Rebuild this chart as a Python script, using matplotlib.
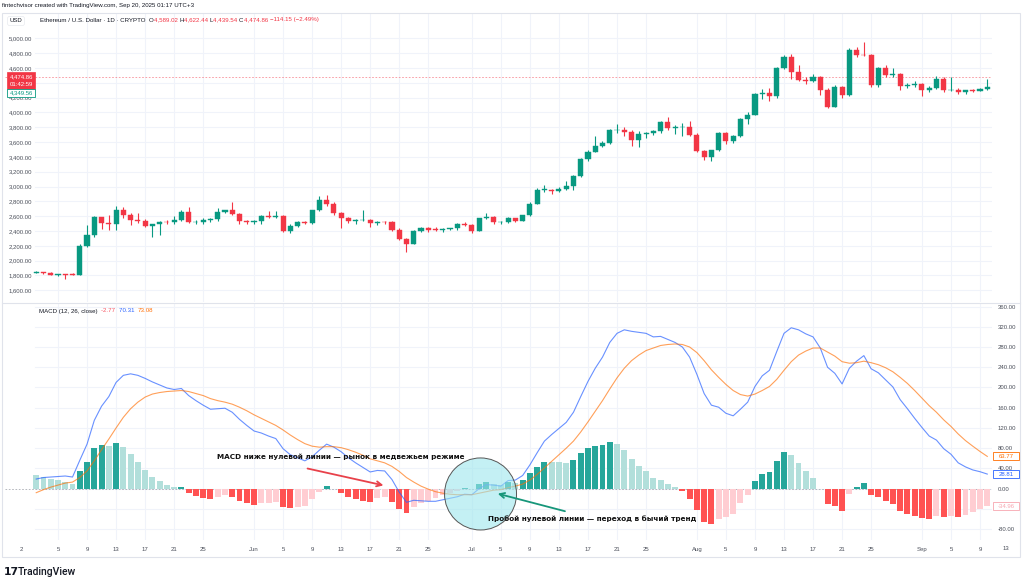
import numpy as np
import matplotlib
matplotlib.use('Agg')
import matplotlib.pyplot as plt
from matplotlib.patches import Rectangle, Ellipse
import pandas as pd

# ---------------- data ----------------
start_date = '2025-05-02'
opens = [1835, 1842, 1834, 1810, 1816, 1814, 1810, 2198, 2345, 2585,
         2510, 2495, 2680, 2610, 2545, 2535, 2465, 2490, 2520, 2515,
         2545, 2660, 2520, 2525, 2545, 2560, 2660, 2680, 2630, 2530,
         2525, 2535, 2600, 2590, 2600, 2405, 2470, 2520, 2505, 2680,
         2815, 2770, 2640, 2580, 2530, 2545, 2555, 2510, 2525, 2520,
         2410, 2295, 2230, 2405, 2445, 2420, 2415, 2425, 2435, 2500,
         2485, 2405, 2570, 2590, 2515, 2520, 2570, 2540, 2610, 2770,
         2955, 2960, 2940, 2970, 3010, 3140, 3370, 3470, 3550, 3590,
         3760, 3770, 3740, 3630, 3710, 3720, 3745, 3870, 3790, 3800,
         3810, 3700, 3480, 3395, 3490, 3720, 3610, 3680, 3910, 3970,
         4250, 4260, 4220, 4600, 4750, 4550, 4440, 4430, 4480, 4310,
         4080, 4340, 4230, 4840, 4780, 4770, 4370, 4600, 4510, 4515,
         4360, 4370, 4390, 4310, 4330, 4450, 4300, 4310, 4270, 4300,
         4295, 4312]
highs = [1865, 1850, 1845, 1825, 1822, 1830, 2220, 2480, 2600, 2595,
         2620, 2740, 2720, 2645, 2645, 2560, 2500, 2530, 2545, 2600,
         2690, 2730, 2550, 2570, 2580, 2710, 2690, 2790, 2640, 2545,
         2545, 2610, 2675, 2665, 2620, 2490, 2530, 2540, 2690, 2870,
         2880, 2785, 2650, 2590, 2560, 2680, 2560, 2540, 2540, 2540,
         2440, 2310, 2420, 2460, 2460, 2450, 2440, 2440, 2510, 2520,
         2500, 2580, 2640, 2600, 2535, 2590, 2580, 2620, 2790, 2980,
         3020, 2970, 2990, 3070, 3150, 3390, 3490, 3680, 3620, 3780,
         3850, 3810, 3760, 3750, 3740, 3770, 3890, 3940, 3830, 3860,
         3880, 3720, 3500, 3500, 3730, 3740, 3690, 3920, 4010, 4260,
         4320, 4330, 4620, 4780, 4790, 4640, 4480, 4520, 4490, 4330,
         4370, 4360, 4870, 4880, 4950, 4790, 4620, 4640, 4600, 4530,
         4400, 4420, 4400, 4360, 4490, 4480, 4480, 4330, 4310, 4320,
         4330, 4450]
lows = [1830, 1825, 1805, 1790, 1750, 1800, 1800, 2190, 2320, 2430,
        2410, 2415, 2570, 2480, 2510, 2450, 2325, 2350, 2490, 2500,
        2540, 2505, 2500, 2500, 2520, 2540, 2640, 2620, 2500, 2500,
        2490, 2500, 2580, 2575, 2390, 2380, 2460, 2490, 2500, 2670,
        2740, 2620, 2440, 2510, 2490, 2530, 2460, 2480, 2500, 2400,
        2280, 2120, 2220, 2390, 2390, 2400, 2390, 2410, 2420, 2470,
        2380, 2400, 2560, 2500, 2500, 2510, 2520, 2530, 2600, 2760,
        2930, 2900, 2920, 2950, 2960, 3130, 3350, 3460, 3530, 3580,
        3720, 3680, 3550, 3530, 3650, 3700, 3720, 3770, 3710, 3680,
        3680, 3470, 3360, 3350, 3480, 3580, 3590, 3670, 3850, 3960,
        4180, 4150, 4200, 4590, 4450, 4420, 4380, 4410, 4230, 4060,
        4070, 4200, 4220, 4750, 4760, 4350, 4340, 4480, 4480, 4300,
        4330, 4350, 4220, 4270, 4320, 4280, 4290, 4250, 4250, 4270,
        4290, 4300]
closes = [1842, 1834, 1810, 1816, 1812, 1810, 2200, 2345, 2585, 2510,
          2495, 2680, 2610, 2545, 2535, 2465, 2490, 2520, 2515, 2545,
          2660, 2520, 2525, 2545, 2560, 2660, 2680, 2630, 2530, 2525,
          2535, 2600, 2590, 2600, 2405, 2470, 2520, 2505, 2680, 2815,
          2770, 2640, 2580, 2530, 2545, 2555, 2510, 2525, 2520, 2410,
          2295, 2230, 2405, 2445, 2420, 2415, 2425, 2435, 2500, 2485,
          2405, 2570, 2590, 2515, 2520, 2570, 2540, 2610, 2770, 2955,
          2960, 2940, 2970, 3010, 3140, 3370, 3470, 3550, 3590, 3760,
          3770, 3740, 3630, 3710, 3720, 3745, 3870, 3790, 3800, 3810,
          3700, 3480, 3395, 3490, 3720, 3610, 3680, 3910, 3970, 4250,
          4260, 4220, 4600, 4750, 4550, 4440, 4430, 4480, 4310, 4080,
          4340, 4230, 4840, 4780, 4770, 4370, 4600, 4510, 4515, 4360,
          4370, 4390, 4310, 4330, 4450, 4300, 4310, 4270, 4300, 4295,
          4312, 4349.56]

hist = [27, 24, 20, 17, 14, 10, 34, 53, 80, 86,
        84, 90, 83, 69, 53, 37, 24, 15, 7, 3,
        4, -8, -14, -19, -21, -16, -12, -16, -24, -29,
        -32, -29, -28, -26, -37, -39, -36, -34, -21, -6,
        5, -1, -8, -16, -21, -24, -26, -19, -16, -26,
        -41, -49, -36, -29, -24, -19, -13, -8, -4, 1,
        0, 9, 14, 10, 7, 14, 12, 17, 30, 43,
        53, 53, 52, 51, 57, 70, 80, 85, 86, 92,
        88, 76, 58, 45, 34, 22, 18, 10, 3, -5,
        -20, -43, -65, -70, -59, -57, -50, -29, -12, 15,
        29, 32, 55, 73, 67, 50, 34, 22, 0, -30,
        -34, -44, -10, 3, 11, -12, -16, -24, -30, -44,
        -50, -55, -58, -60, -55, -57, -55, -57, -52, -47,
        -40, -34.96]
macd_line = [19, 22, 23, 24, 25, 23, 56, 88, 135, 163,
             182, 210, 224, 227, 224, 218, 211, 205, 199, 196,
             198, 184, 174, 165, 157, 158, 159, 151, 137, 125,
             114, 110, 104, 99, 79, 67, 61, 55, 63, 76,
             88, 82, 73, 61, 51, 42, 33, 36, 35, 18,
             -7, -27, -23, -24, -25, -25, -22, -19, -16, -11,
             -12, 0, 8, 7, 5, 16, 17, 26, 47, 71,
             94, 107, 119, 131, 151, 182, 212, 238, 260, 289,
             307, 314, 311, 309, 307, 300, 301, 295, 289, 280,
             260, 226, 188, 165, 161, 149, 144, 157, 171, 202,
             223, 234, 271, 307, 318, 314, 306, 300, 278, 240,
             228, 207, 238, 252, 263, 237, 229, 215, 201, 176,
             158, 139, 121, 104, 96, 79, 68, 51, 43, 37,
             33.5, 28.81]
signal_line = [-8, -2, 3, 7, 11, 13, 22, 35, 55, 77,
               98, 120, 141, 158, 171, 181, 187, 190, 192, 193,
               194, 192, 188, 184, 178, 174, 171, 167, 161, 154,
               146, 139, 132, 125, 116, 106, 97, 89, 84, 82,
               83, 83, 81, 77, 72, 66, 59, 55, 51, 44,
               34, 22, 13, 5, -1, -6, -9, -11, -12, -12,
               -12, -9, -6, -3, -2, 2, 5, 9, 17, 28,
               41, 54, 67, 80, 94, 112, 132, 153, 174, 197,
               219, 238, 253, 264, 273, 278, 283, 285, 286, 285,
               280, 269, 253, 235, 220, 206, 194, 186, 183, 187,
               194, 202, 216, 234, 251, 264, 272, 278, 278, 270,
               262, 251, 248, 249, 252, 249, 245, 239, 231, 220,
               208, 194, 179, 164, 151, 136, 123, 108, 95, 84,
               73.5, 63.77]

tick_dates = ['2025-04-30', '2025-05-05', '2025-05-09', '2025-05-13', '2025-05-17',
              '2025-05-21', '2025-05-25', '2025-06-01', '2025-06-05', '2025-06-09',
              '2025-06-13', '2025-06-17', '2025-06-21', '2025-06-25', '2025-07-01',
              '2025-07-05', '2025-07-09', '2025-07-13', '2025-07-17', '2025-07-21',
              '2025-07-25', '2025-08-01', '2025-08-05', '2025-08-09', '2025-08-13',
              '2025-08-17', '2025-08-21', '2025-08-25', '2025-09-01', '2025-09-05',
              '2025-09-09']
tick_labels = ['2', '5', '9', '13', '17', '21', '25', 'Jun', '5', '9', '13', '17',
               '21', '25', 'Jul', '5', '9', '13', '17', '21', '25', 'Aug', '5', '9',
               '13', '17', '21', '25', 'Sep', '5', '9']
price_ticks = [1600, 1800, 2000, 2200, 2400, 2600, 2800, 3000, 3200, 3400, 3600,
               3800, 4000, 4200, 4400, 4600, 4800, 5000]
macd_ticks = [-80, -40, 0, 40, 80, 120, 160, 200, 240, 280, 320, 360]

# ---------------- style ----------------
W, H = 1024, 585
UP, DN = '#089981', '#f23645'
H_UP_STRONG, H_UP_WEAK = '#26a69a', '#b2dfdb'
H_DN_WEAK, H_DN_STRONG = '#ffcdd2', '#ff5252'
GRID = '#f0f3fa'
TXT = '#131722'
LBL = '#4a4e59'
FONT = 'Liberation Sans'

def fx(x):
    return x / W

def fy(y):
    return 1 - y / H

def fmt(v):
    return f'{v:,.2f}'

fig = plt.figure(figsize=(W / 100, H / 100), dpi=100)
fig.patch.set_facecolor('white')

ax_l, ax_r = 5, 992
axp = fig.add_axes([fx(ax_l), fy(302), fx(ax_r - ax_l), (302 - 14) / H])
axm = fig.add_axes([fx(ax_l), fy(540), fx(ax_r - ax_l), (540 - 303) / H])

n = len(closes)
x = np.arange(n)
t0 = pd.Timestamp(start_date)
tick_pos = [(pd.Timestamp(d) - t0).days for d in tick_dates]

xlim = (-4.3, 131.65)
for ax in (axp, axm):
    ax.set_xlim(*xlim)
    for s in ax.spines.values():
        s.set_visible(False)
    ax.set_facecolor('none')
    for tp in tick_pos[1:]:
        ax.axvline(tp, color=GRID, lw=0.8, zorder=0)

# ---------------- price pane ----------------
axp.set_ylim(1442, 5329)
o = np.array(opens, float); c = np.array(closes, float)
hi = np.array(highs, float); lo = np.array(lows, float)
cols = np.where(c >= o, UP, DN)
axp.vlines(x, lo, hi, colors=cols, lw=0.8, zorder=3)
bottoms = np.minimum(o, c)
heights = np.maximum(np.abs(c - o), 8)
axp.bar(x, heights, bottom=bottoms, width=0.7, color=cols, edgecolor=cols, lw=0.3, zorder=4)

frac = (35 - ax_l) / (ax_r - ax_l)
for t in price_ticks:
    axp.axhline(t, xmin=frac, color=GRID, lw=0.8, zorder=0)
axp.set_yticks(price_ticks)
axp.set_yticklabels(['' if t == 4400 else fmt(t) for t in price_ticks])
axp.tick_params(axis='y', direction='in', length=0, pad=-19.6, labelsize=4.3,
                labelcolor=LBL)
for lab in axp.get_yticklabels():
    lab.set_fontfamily(FONT)
    lab.set_horizontalalignment('right')
axp.set_xticks([])

last_price = 4474.86
axp.axhline(last_price, color=DN, lw=0.6, ls=(0, (2, 2)), alpha=0.55, zorder=2)

# ---------------- MACD pane ----------------
axm.set_ylim(-101.5, 367)
hv = np.array(hist, float)
prev = np.r_[np.inf, hv[:-1]]
hcols = np.where(hv >= 0, np.where(hv > prev, H_UP_STRONG, H_UP_WEAK),
                 np.where(hv > prev, H_DN_WEAK, H_DN_STRONG))
axm.bar(x, hv, width=0.82, color=hcols, zorder=2)
axm.axhline(0, color='#9598a1', lw=0.6, ls=(0, (2, 2)), alpha=0.8, zorder=1)
axm.plot(x, macd_line, color='#2962ff', lw=0.8, alpha=0.7, zorder=5)
axm.plot(x, signal_line, color='#ff6d00', lw=0.8, alpha=0.65, zorder=5)
for t in macd_ticks:
    axm.axhline(t, xmin=frac, color=GRID, lw=0.8, zorder=0)
axm.yaxis.tick_right()
axm.set_yticks(macd_ticks)
axm.set_yticklabels(['' if t == -40 else fmt(t) for t in macd_ticks])
axm.tick_params(axis='y', length=0, pad=4.3, labelsize=4.3, labelcolor=LBL)
axm.set_xticks(tick_pos)
axm.set_xticklabels(tick_labels)
axm.tick_params(axis='x', length=0, pad=5, labelsize=4.3, labelcolor=LBL)
for lab in axm.get_yticklabels() + axm.get_xticklabels():
    lab.set_fontfamily(FONT)
fig.text(fx(1006), fy(549), '13', fontsize=4.3, color=LBL, family=FONT,
         ha='center', va='center')

# annotations
circ = Ellipse((61.2, -10.5), width=72 / 7.26, height=72 / 0.5056,
               facecolor=(0.62, 0.9, 0.93, 0.6), edgecolor='#555555', lw=0.7, zorder=6)
axm.add_patch(circ)
axm.annotate('', xy=(48.2, 5.3), xytext=(37.0, 41), arrowprops=dict(
    arrowstyle='->', color='#e8414a', lw=1.3, mutation_scale=9), zorder=7)
axm.annotate('', xy=(63.2, -8.5), xytext=(73.2, -46), arrowprops=dict(
    arrowstyle='->', color='#16967a', lw=1.3, mutation_scale=9), zorder=7)
axm.text(42.0, 62.7, 'MACD ниже нулевой линии — рынок в медвежьем режиме',
         fontsize=5.2, fontweight='bold', color='#111111', ha='center', va='center',
         family='DejaVu Sans', zorder=8)
axm.text(62.2, -60, 'Пробой нулевой линии — переход в бычий тренд',
         fontsize=5.25, fontweight='bold', color='#111111', ha='left', va='center',
         family='DejaVu Sans', zorder=8)

# ---------------- frame & overlays ----------------
fig.add_artist(Rectangle((fx(2), fy(557)), fx(1018), (557 - 13) / H, transform=fig.transFigure,
                         fill=False, edgecolor='#e0e3eb', lw=0.8))
fig.add_artist(plt.Line2D([fx(2), fx(1020)], [fy(302.5), fy(302.5)],
                          transform=fig.transFigure, color='#e0e3eb', lw=0.8))

fig.text(fx(2), fy(6), 'fintechvisor created with TradingView.com, Sep 20, 2025 01:17 UTC+3',
         fontsize=4.4, color=TXT, family=FONT, ha='left', va='center')
fig.text(fx(16), fy(21), 'USD', fontsize=4.3, color=TXT, family=FONT, ha='center', va='center',
         bbox=dict(boxstyle='round,pad=0.35', fc='white', ec='#e8eaef', lw=0.5))


def chain(first_xy, parts, size):
    t = fig.text(first_xy[0], first_xy[1], parts[0][0], color=parts[0][1], fontsize=size,
                 family=FONT, ha='left', va='center')
    prev_t = t
    for s, col in parts[1:]:
        prev_t = axp.annotate(s, xy=(1, 0.5), xycoords=prev_t, color=col, fontsize=size,
                              family=FONT, ha='left', va='center', annotation_clip=False)
    return t


chain((fx(40), fy(20)), [('Ethereum / U.S. Dollar · 1D · CRYPTO  ', TXT),
                         ('O', TXT), ('4,589.02 ', DN), ('H', TXT), ('4,622.44 ', DN),
                         ('L', TXT), ('4,439.54 ', DN), ('C', TXT), ('4,474.86 ', DN),
                         ('−114.15 (−2.49%)', DN)], 4.4)
chain((fx(39), fy(311)), [('MACD (12, 26, close)  ', TXT), ('-2.77  ', '#f7525f'),
                          ('70.31  ', '#2962ff'), ('73.08', '#ff6d00')], 4.4)

# price labels on the left scale
fig.add_artist(Rectangle((fx(7), fy(88.5)), fx(28), 16.5 / H, transform=fig.transFigure,
                         facecolor=DN, edgecolor=DN, lw=0.5))
fig.text(fx(21), fy(76.5), fmt(last_price), fontsize=4.3, color='white', family=FONT,
         ha='center', va='center')
fig.text(fx(21), fy(84.3), '01:42:59', fontsize=4.3, color='white', family=FONT,
         ha='center', va='center')
fig.add_artist(Rectangle((fx(7), fy(96.5)), fx(28), 8 / H, transform=fig.transFigure,
                         facecolor='white', edgecolor=UP, lw=0.6))
fig.text(fx(21), fy(92.5), fmt(closes[-1]), fontsize=4.3, color=UP, family=FONT,
         ha='center', va='center')

# MACD labels on the right scale
for val, col, fc in [(signal_line[-1], '#ff6d00', 'white'), (macd_line[-1], '#2962ff', 'white'),
                     (hist[-1], '#f7a6b0', 'white')]:
    yp = 488.7 - val * 0.5056
    fig.add_artist(Rectangle((fx(993), fy(yp + 4)), fx(26), 8 / H, transform=fig.transFigure,
                             facecolor=fc, edgecolor=col, lw=0.6))
    fig.text(fx(1006), fy(yp), fmt(val), fontsize=4.3, color=col, family=FONT,
             ha='center', va='center')

# TradingView logo
fig.text(fx(4), fy(572), '17', fontsize=7.8, fontweight='heavy', color=TXT,
         family='DejaVu Sans', ha='left', va='center')
fig.text(fx(18), fy(572), 'TradingView', fontsize=7.5, fontweight='medium', color=TXT,
         family='Roboto', ha='left', va='center')

fig.savefig('out.png', dpi=100, facecolor='white')
